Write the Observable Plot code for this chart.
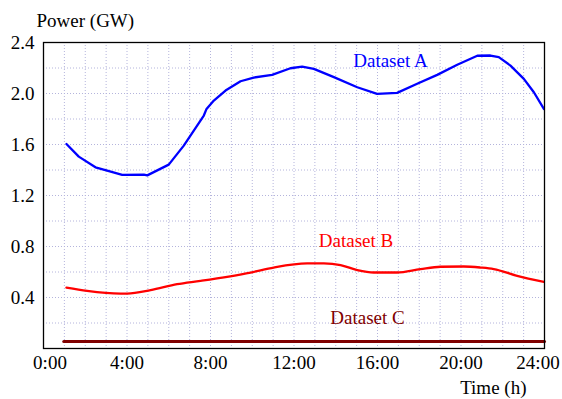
<!DOCTYPE html>
<html><head><meta charset="utf-8">
<script src="https://cdn.jsdelivr.net/npm/d3@7"></script>
<script src="https://cdn.jsdelivr.net/npm/@observablehq/plot@0.6"></script>
<style>body{margin:0;background:#fff}</style>
</head><body><div id="chart"></div>
<script>
// Dataset A (hours, GW)
const hoursA = [1.10,1.69,2.49,3.05,3.77,4.81,4.97,6.00,6.72,7.20,7.36,7.68,7.81,8.16,8.72,9.44,10.07,10.95,11.83,12.39,12.95,13.91,15.03,15.98,16.94,17.90,18.86,19.82,20.78,21.41,21.81,22.37,23.01,23.49,23.97];
const valuesA = [1.604,1.505,1.421,1.395,1.361,1.363,1.358,1.442,1.591,1.709,1.748,1.827,1.879,1.945,2.023,2.096,2.125,2.146,2.198,2.211,2.193,2.128,2.049,1.997,2.005,2.076,2.146,2.225,2.296,2.298,2.285,2.219,2.115,2.010,1.879];
// Dataset B
const hoursB = [1.10,2.09,3.69,4.01,5.13,6.40,7.52,9.92,11.03,12.63,13.43,14.23,15.03,15.82,16.94,18.06,19.02,20.13,20.93,21.57,22.69,23.97];
const valuesB = [0.478,0.452,0.431,0.431,0.458,0.505,0.531,0.596,0.635,0.667,0.667,0.654,0.615,0.596,0.596,0.623,0.641,0.643,0.635,0.623,0.570,0.523];
// Dataset C
const hoursC = [0.97,24];
const valuesC = [0.054,0.054];

const seriesNames = ["Dataset A","Dataset B","Dataset C"];
const seriesColors = ["#0000ff","#ff0000","#800000"];
const labelHours = [16.62,14.97,15.52];
const labelValues = [2.252,0.840,0.241];

const xTickHours = [0,4,8,12,16,20,24];
const yTickValues = [0.4,0.8,1.2,1.6,2.0,2.4];
const xGridHours = d3.range(1,24);
const yGridValues = [0.2,0.4,0.6,0.8,1.0,1.2,1.4,1.6,1.8,2.0,2.2];

const mk = (h, v) => h.map((x, i) => ({x, y: v[i]}));
const A = mk(hoursA, valuesA), B = mk(hoursB, valuesB), C = mk(hoursC, valuesC);
const labels = seriesNames.map((name, i) => ({name, x: labelHours[i], y: labelValues[i], c: seriesColors[i]}));
const fmt = h => h + ":00";
const FF = "Liberation Serif";
const gridStyle = {stroke: "#b4b4dc", strokeOpacity: 1, strokeWidth: 1, strokeDasharray: "1,2"};
const tx = {fontSize: 19, fontFamily: FF};

const chart = Plot.plot({
  width: 562, height: 399,
  marginLeft: 43, marginRight: 18, marginTop: 42, marginBottom: 51,
  style: "font-family:'Liberation Serif';font-size:19px",
  x: {domain: [0, 24], label: null},
  y: {domain: [0, 2.4], label: null},
  marks: [
    Plot.gridX(xGridHours, gridStyle),
    Plot.gridY(yGridValues, gridStyle),
    Plot.line(C, {x: "x", y: "y", stroke: seriesColors[2], strokeWidth: 3}),
    Plot.line(B, {x: "x", y: "y", stroke: seriesColors[1], strokeWidth: 2.3, curve: "monotone-x"}),
    Plot.line(A, {x: "x", y: "y", stroke: seriesColors[0], strokeWidth: 2.3}),
    Plot.frame({stroke: "#000", strokeWidth: 1.3}),
    Plot.axisY(yTickValues, {...tx, tickSize: 0, tickPadding: 9, tickFormat: d => d.toFixed(1), label: null}),
    Plot.axisX(xTickHours.slice(1, -1), {...tx, tickSize: 0, tickPadding: 6.5, tickFormat: fmt, label: null}),
    Plot.axisX(xTickHours.slice(0, 1), {...tx, tickSize: 0, tickPadding: 6.5, tickFormat: fmt, label: null, dx: 6.5}),
    Plot.axisX(xTickHours.slice(-1), {...tx, tickSize: 0, tickPadding: 6.5, tickFormat: fmt, label: null, dx: -6.5}),
    Plot.text(labels, {...tx, x: "x", y: "y", text: "name", fill: "c", textAnchor: "middle", lineAnchor: "middle"}),
    Plot.text(["Power (GW)"], {...tx, frameAnchor: "top-left", dx: -7, dy: -22, textAnchor: "start", lineAnchor: "middle"}),
    Plot.text(["Time (h)"], {...tx, frameAnchor: "bottom-right", dx: -18, dy: 39, textAnchor: "end", lineAnchor: "middle"})
  ]
});
document.getElementById("chart").append(chart);
</script>
</body></html>
